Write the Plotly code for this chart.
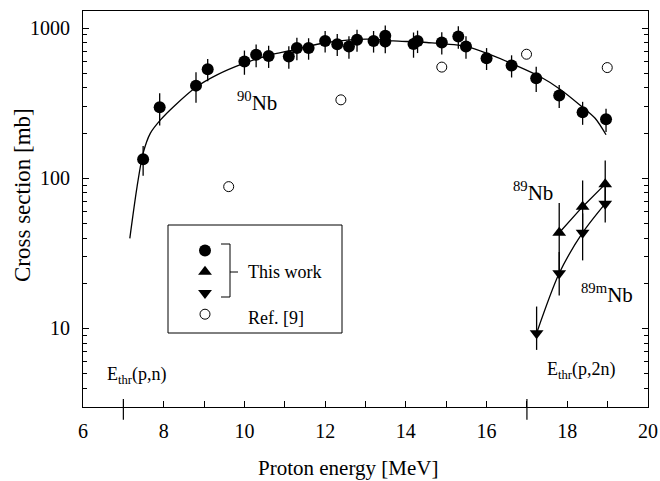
import math
import plotly.graph_objects as go

# ---------------- data ----------------
nb90_E = [7.49, 7.90, 8.80, 9.09, 10.00, 10.29, 10.60, 11.10, 11.30, 11.59, 12.00, 12.30,
          12.59, 12.79, 13.20, 13.49, 13.49, 14.19, 14.29, 14.89, 15.30, 15.49, 16.00,
          16.62, 17.23, 17.80, 18.38, 18.96]
nb90_xs = [134, 297, 414, 533, 599, 664, 653, 647, 736, 736, 822, 782,
           754, 836, 822, 889, 815, 785, 822, 802, 880, 754, 631,
           564, 464, 356, 275, 247]
nb90_err = [30, 72, 95, 90, 110, 115, 110, 110, 125, 120, 135, 130,
            130, 140, 135, 150, 135, 150, 140, 135, 150, 130, 105,
            95, 88, 62, 48, 44]

nb89_E = [17.80, 18.38, 18.94]
nb89_xs = [43.4, 64.7, 91.4]
nb89_err_plus = [25, 32, 40]
nb89_err_minus = [20, 22, 28]

nb89m_E = [17.24, 17.80, 18.38, 18.94]
nb89m_xs = [9.3, 23.3, 43.4, 67.8]
nb89m_err_plus = [4.7, 9, 15, 20]
nb89m_err_minus = [2.1, 6.7, 15, 17]

ref9_E = [9.61, 12.39, 14.89, 16.99, 18.99]
ref9_xs = [88, 333, 550, 670, 546]

fit90_E = [7.16, 7.34, 7.49, 7.67, 7.92, 8.25, 8.80, 9.32, 10.0, 10.56, 11.22, 12.04,
           13.03, 13.69, 14.52, 15.51, 16.17, 16.66, 17.32, 17.82, 18.31, 18.69, 18.96]
fit90_xs = [39.8, 88, 147, 200, 245, 301, 404, 488, 584, 654, 717, 802,
            845, 822, 802, 754, 654, 575, 476, 392, 308, 251, 195]

thr_E = [7.0, 17.0]
thr_labels = ["E<sub>thr</sub>(p,n)", "E<sub>thr</sub>(p,2n)"]

x_tickvals = [6, 8, 10, 12, 14, 16, 18, 20]
x_ticktext = ["6", "8", "10", "12", "14", "16", "18", "20"]
y_tickvals = [10, 100, 1000]
y_ticktext = ["10", "100", "1000"]

FONT = "Liberation Serif, Times New Roman, serif"

# ---------------- figure ----------------
fig = go.Figure()

# fitted curves
fig.add_trace(go.Scatter(x=fit90_E, y=fit90_xs, mode="lines",
                         line=dict(color="black", width=1.3, shape="spline", smoothing=0.8),
                         showlegend=False, hoverinfo="skip"))
fig.add_trace(go.Scatter(x=nb89_E, y=nb89_xs, mode="lines",
                         line=dict(color="black", width=1.3),
                         showlegend=False, hoverinfo="skip"))
fig.add_trace(go.Scatter(x=nb89m_E, y=nb89m_xs, mode="lines",
                         line=dict(color="black", width=1.3, shape="spline", smoothing=0.8),
                         showlegend=False, hoverinfo="skip"))

# data
fig.add_trace(go.Scatter(x=nb90_E, y=nb90_xs, mode="markers", name="",
                         marker=dict(symbol="circle", size=12, color="black"),
                         error_y=dict(type="data", array=nb90_err, color="black",
                                      thickness=1.3, width=0)))
fig.add_trace(go.Scatter(x=nb89_E, y=nb89_xs, mode="markers", name="",
                         marker=dict(symbol="triangle-up", size=12, color="black"),
                         error_y=dict(type="data", symmetric=False, array=nb89_err_plus,
                                      arrayminus=nb89_err_minus, color="black",
                                      thickness=1.3, width=0)))
fig.add_trace(go.Scatter(x=nb89m_E, y=nb89m_xs, mode="markers", name="",
                         marker=dict(symbol="triangle-down", size=12, color="black"),
                         error_y=dict(type="data", symmetric=False, array=nb89m_err_plus,
                                      arrayminus=nb89m_err_minus, color="black",
                                      thickness=1.3, width=0)))
fig.add_trace(go.Scatter(x=ref9_E, y=ref9_xs, mode="markers", name="",
                         marker=dict(symbol="circle-open", size=10, color="black",
                                     line=dict(width=1, color="black"))))

# plot area geometry (pixels) for paper-coordinate helpers
L, R, T, B = 83, 648, 11, 407
W, H = R - L, B - T
def px(xp):
    return (xp - L) / W
def py(yp):
    return (B - yp) / H

shapes = []
# legend box
shapes.append(dict(type="rect", xref="paper", yref="paper",
                   x0=px(168), x1=px(342), y0=py(333), y1=py(225),
                   line=dict(color="black", width=1)))
# bracket
for seg in [((230, 244), (230, 297)), ((221, 244), (230, 244)),
            ((221, 297), (230, 297)), ((230, 272), (238, 272))]:
    (xa, ya), (xb, yb) = seg
    shapes.append(dict(type="line", xref="paper", yref="paper",
                       x0=px(xa), x1=px(xb), y0=py(ya), y1=py(yb),
                       line=dict(color="black", width=1)))
# threshold ticks
for e in thr_E:
    shapes.append(dict(type="line", xref="x", yref="paper", x0=e, x1=e,
                       y0=-0.032, y1=0.02, line=dict(color="black", width=1.2)))

annotations = [
    dict(x=10.3, y=2.511, text="<sup>90</sup>Nb"),
    dict(x=17.15, y=1.911, text="<sup>89</sup>Nb"),
    dict(x=18.98, y=1.233, text="<sup>89m</sup>Nb"),
]
for a in annotations:
    a.update(xref="x", yref="y", showarrow=False, xanchor="center", yanchor="middle",
             font=dict(family=FONT, size=21, color="black"))
annotations.append(dict(x=7.33, y=0.689, text=thr_labels[0]))
annotations.append(dict(x=18.36, y=0.722, text=thr_labels[1]))
for a in annotations[3:]:
    a.update(xref="x", yref="y", showarrow=False, xanchor="center", yanchor="middle",
             font=dict(family=FONT, size=18, color="black"))
annotations.append(dict(xref="paper", yref="paper", x=px(246), y=py(272), text="This work",
                        showarrow=False, xanchor="left", yanchor="middle",
                        font=dict(family=FONT, size=18, color="black")))
annotations.append(dict(xref="paper", yref="paper", x=px(246), y=py(318), text="Ref. [9]",
                        showarrow=False, xanchor="left", yanchor="middle",
                        font=dict(family=FONT, size=18, color="black")))
# axis titles
annotations.append(dict(xref="paper", yref="paper", x=px(348), y=py(468),
                        text="Proton energy [MeV]", showarrow=False,
                        xanchor="center", yanchor="middle",
                        font=dict(family=FONT, size=21, color="black")))
annotations.append(dict(xref="paper", yref="paper", x=px(22), y=py(195),
                        text="Cross section [mb]", showarrow=False, textangle=-90,
                        xanchor="center", yanchor="middle",
                        font=dict(family=FONT, size=23, color="black")))

minor_y = [m * 10 ** k for k in range(0, 4) for m in range(2, 10) if 3 <= m * 10 ** k <= 1300]

fig.update_layout(
    width=660, height=481,
    margin=dict(l=L, r=660 - R, t=T, b=481 - B, pad=0, autoexpand=False),
    paper_bgcolor="white", plot_bgcolor="white",
    font=dict(family=FONT, size=20, color="black"),
    shapes=shapes, annotations=annotations,
    showlegend=True,
    legend=dict(x=px(185), y=py(235), xanchor="left", yanchor="top",
                bgcolor="rgba(0,0,0,0)", borderwidth=0,
                font=dict(family=FONT, size=14), tracegroupgap=0),
    xaxis=dict(range=[6, 20], showgrid=False, zeroline=False, automargin=False,
               showline=True, linecolor="black", linewidth=1.2, mirror=True,
               ticks="inside", ticklen=6, tickwidth=1, tickcolor="black",
               tickmode="array", tickvals=x_tickvals, ticktext=x_ticktext,
               ticklabelstandoff=6,
               minor=dict(dtick=1, ticks="inside", ticklen=6, tickwidth=1,
                          tickcolor="black", showgrid=False),
               tickfont=dict(family=FONT, size=20)),
    yaxis=dict(type="log", range=[math.log10(3), math.log10(1300)], automargin=False,
               showgrid=False, zeroline=False,
               showline=True, linecolor="black", linewidth=1.2, mirror="ticks",
               ticks="inside", ticklen=6, tickwidth=1, tickcolor="black",
               tickmode="array", tickvals=y_tickvals, ticktext=y_ticktext,
               ticklabelstandoff=8,
               minor=dict(tickmode="array", tickvals=minor_y, ticks="inside",
                          ticklen=4, tickwidth=1, tickcolor="black", showgrid=False),
               tickfont=dict(family=FONT, size=20)),
)

fig.write_html("out.html", config={"displayModeBar": False},
               post_script="document.body.style.margin='0';document.body.style.padding='0';")
